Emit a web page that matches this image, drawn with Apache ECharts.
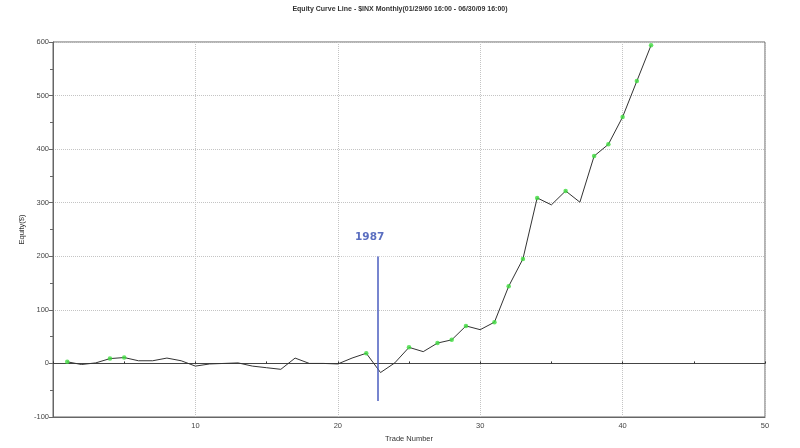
<!DOCTYPE html>
<html><head><meta charset="utf-8">
<script src="https://cdn.jsdelivr.net/npm/echarts@6/dist/echarts.min.js"></script>
<style>html,body{margin:0;padding:0;background:#fff}#c{width:800px;height:448px}</style>
</head><body><div id="c"></div>
<script>
const titleText = 'Equity Curve Line - $INX Monthly(01/29/60 16:00 - 06/30/09 16:00)';
const xName = 'Trade Number';
const yName = 'Equity($)';
const trades = [1,2,3,4,5,6,7,8,9,10,11,12,13,14,15,16,17,18,19,20,21,22,23,24,25,26,27,28,29,30,31,32,33,34,35,36,37,38,39,40,41,42];
const equity = [3,-2,1,9,11,5,5,10,5,-5,-1,0,1,-5,-8,-11,10,0,0,-1,10,19,-17,1,30,22,38,44,70,63,77,144,195,309,296,322,301,387,409,460,527,594];
const annoText = '1987';
const annoX = 22.8;
const annoRange = [-70, 200];

const lineData = trades.map((t, i) => [t, equity[i]]);
const highs = [];
let best = -Infinity;
trades.forEach((t, i) => { if (equity[i] > best) { best = equity[i]; highs.push([t, equity[i]]); } });

const chart = echarts.init(document.getElementById('c'));
const font = 'Liberation Sans, Arial, sans-serif';
chart.setOption({
  animation: false,
  backgroundColor: '#fff',
  title: { text: titleText, left: 'center', top: 1, textStyle: { fontSize: 7, fontWeight: 'bold', color: '#333', fontFamily: font } },
  grid: { left: 53, right: 35, top: 42, bottom: 31, show: true, borderColor: '#666', borderWidth: 1, backgroundColor: 'transparent' },
  xAxis: [{
    type: 'value', min: 0, max: 50, interval: 10,
    name: xName, nameLocation: 'middle', nameGap: 18, nameMoveOverlap: false,
    nameTextStyle: { fontSize: 7.5, color: '#333', fontFamily: font },
    axisLine: { onZero: false, lineStyle: { color: '#666' } },
    axisTick: { show: false },
    axisLabel: { showMinLabel: false, fontSize: 7.5, color: '#444', margin: 5, fontFamily: font },
    splitLine: { show: true, lineStyle: { color: '#c4c4c4', type: 'dotted', width: 1 } }
  }, {
    type: 'value', min: 0, max: 50, interval: 5, position: 'bottom',
    axisLine: { onZero: true, lineStyle: { color: '#444', width: 1 } },
    axisTick: { show: true, length: 2, inside: true, lineStyle: { color: '#333' } },
    axisLabel: { show: false },
    splitLine: { show: false }
  }],
  yAxis: {
    type: 'value', min: -100, max: 600, interval: 100,
    name: yName, nameLocation: 'middle', nameGap: 27, nameMoveOverlap: false,
    nameTextStyle: { fontSize: 7.5, color: '#333', fontFamily: font },
    axisLine: { show: true, lineStyle: { color: '#666' } },
    axisTick: { show: true, length: 4, lineStyle: { color: '#666' } },
    minorTick: { show: true, splitNumber: 2, length: 3, lineStyle: { color: '#666' } },
    axisLabel: { fontSize: 7.5, color: '#444', margin: 4, fontFamily: font },
    splitLine: { show: true, lineStyle: { color: '#c4c4c4', type: 'dotted', width: 1 } }
  },
  series: [{
    type: 'line', data: lineData, symbol: 'none',
    lineStyle: { color: '#333', width: 1 },
    z: 3,
    markLine: {
      silent: true, symbol: 'none',
      lineStyle: { color: '#4a5cbf', width: 1.5, type: 'solid' },
      label: {
        show: true, position: 'end', formatter: annoText, distance: 0, offset: [-8, 0],
        color: '#5a6ec0', fontSize: 10.5, fontWeight: 'bold', fontFamily: 'Verdana, DejaVu Sans, sans-serif',
        backgroundColor: '#fff', padding: [8, 13, 14, 13]
      },
      data: [[{ coord: [annoX, annoRange[0]] }, { coord: [annoX, annoRange[1]] }]]
    }
  }, {
    type: 'scatter', data: highs, symbol: 'circle', symbolSize: 4.5,
    itemStyle: { color: '#3ddc3d' }, z: 4
  }]
});
</script></body></html>
